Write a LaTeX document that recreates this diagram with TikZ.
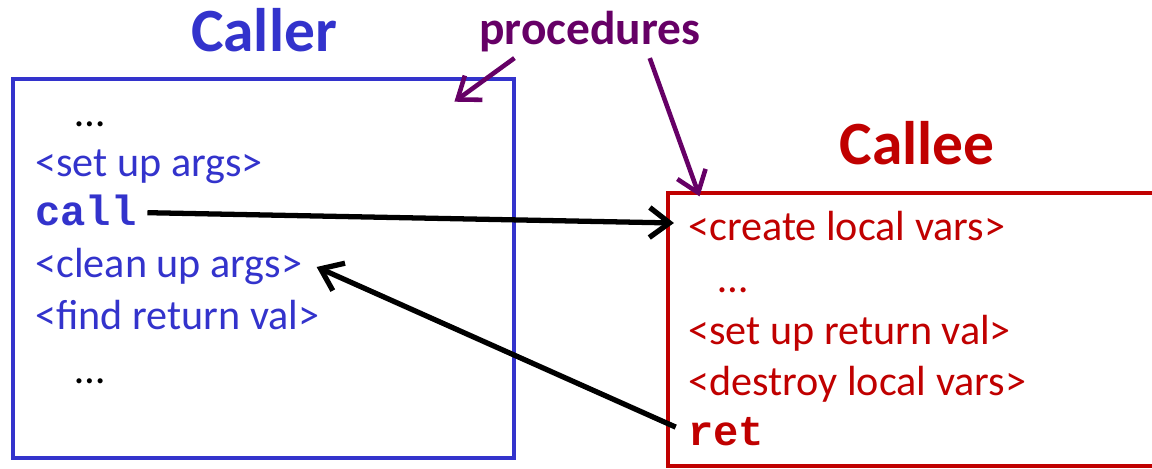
\documentclass[tikz,border=0pt]{standalone}
\usepackage{fontspec}
\setmainfont{Carlito}
\setmonofont{Liberation Mono}
\usetikzlibrary{arrows.meta}
\definecolor{callerblue}{HTML}{3333CC}
\definecolor{calleered}{HTML}{C00000}
\definecolor{procpurple}{HTML}{660066}
\begin{document}
\begin{tikzpicture}
	[	x=0.02cm,y=-0.02cm,
	frame/.style={rectangle,draw,line width=2.2pt,fill=none},
	line/.style={anchor=base west,inner sep=0pt,font=\fontsize{24}{28}\selectfont},
	code/.style={line,font=\fontsize{24}{28}\selectfont\ttfamily\bfseries},
	title/.style={anchor=base,inner sep=0pt,font=\fontsize{35}{40}\selectfont\bfseries},
	link/.style={line width=3pt,-{Straight Barb[length=4mm,width=6mm]}},
	pointer/.style={draw=procpurple,line width=2.6pt,-{Straight Barb[length=4mm,width=6mm]}}
	]
	\useasboundingbox (0,0) rectangle (1152,469);
	\node[frame,draw=callerblue,minimum width=10.02cm,minimum height=7.58cm] (caller) at (263.5,268.5){};
	\node[frame,draw=calleered,minimum width=9.84cm,minimum height=5.46cm] (callee) at (914,329.5){};

	\node[title,text=callerblue] (callertitle) at (264,52){Caller};
	\node[title,text=calleered] (calleetitle) at (917,165){Callee};
	\node[title,text=procpurple,font=\fontsize{27}{32}\selectfont\bfseries] (procs) at (590,45){procedures};

	\node[line] (cdots1) at (75,127){…};
	\node[line,text=callerblue] (setup) at (35,177){<set up args>};
	\node[code,text=callerblue] (call) at (35,226){call};
	\node[line,text=callerblue] (clean) at (35,278){<clean up args>};
	\node[line,text=callerblue] (find) at (35,330){<find return val>};
	\node[line] (cdots2) at (75,383){…};

	\node[line,text=calleered] (create) at (688,241){<create local vars>};
	\node[line,text=calleered] (edots) at (718,293){…};
	\node[line,text=calleered] (retval) at (688,344){<set up return val>};
	\node[line,text=calleered] (destroy) at (688,395){<destroy local vars>};
	\node[code,text=calleered] (ret) at (688,445){ret};

	\draw[link] ([xshift=6pt,yshift=-1pt]call.east) -- ([xshift=-8pt,yshift=2pt]create.west);
	\draw[link] ([xshift=-7pt,yshift=-6pt]ret.north west) -- ([xshift=8pt,yshift=0pt]clean.east);
	\draw[pointer] ([xshift=-43pt,yshift=-3pt]procs.south) -- ([xshift=-35pt,yshift=-14pt]caller.north east);
	\draw[pointer] ([xshift=34pt,yshift=-3pt]procs.south) -- ([xshift=19pt,yshift=-3pt]callee.north west);
\end{tikzpicture}
\end{document}
